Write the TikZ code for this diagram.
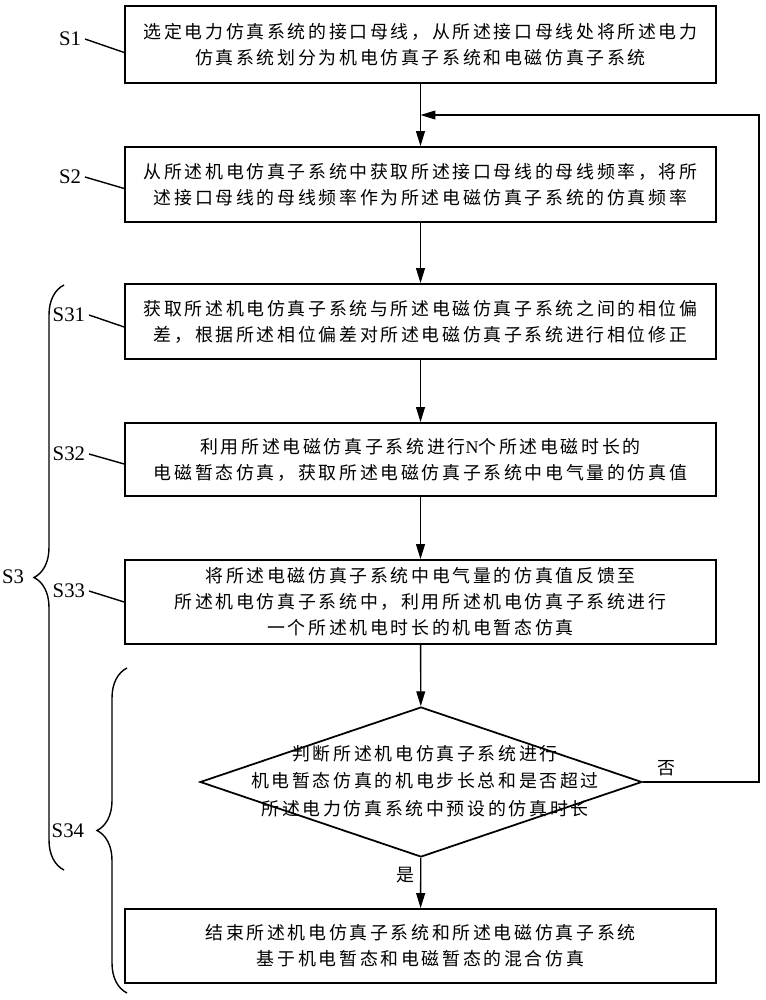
\documentclass[tikz,border=0pt]{standalone}
\usepackage{fontspec}
\setmainfont{Liberation Serif}
\newfontfamily\cjk[LetterSpace=15]{Noto Sans CJK SC}
\usetikzlibrary{arrows.meta}
\usetikzlibrary{positioning}
\usetikzlibrary{shapes.geometric}
\usetikzlibrary{decorations.pathreplacing}

\tikzset{
    stepbox/.style={draw, line width=1pt, minimum width=11.82cm, inner sep=0pt, align=center,
        font=\cjk\fontsize{10.2}{14.8}\selectfont},
    steplabel/.style={inner sep=0pt, outer sep=0.08cm, font=\fontsize{11.8}{14}\selectfont},
    flow/.style={line width=0.8pt, -{Triangle[length=8.5pt, width=5pt]}},
    leader/.style={line width=0.8pt},
    bracket/.style={line width=0.8pt, decorate, decoration={brace, amplitude=0.6cm}},
}

\begin{document}
\begin{tikzpicture}[x=0.02cm, y=-0.02cm]
    \useasboundingbox (0,0) rectangle (766,1000);

    \node[stepbox, minimum height=1.54cm] (s1) at (420.5,44.5)
        {选定电力仿真系统的接口母线，从所述接口母线处将所述电力\\仿真系统划分为机电仿真子系统和电磁仿真子系统};
    \node[stepbox, minimum height=1.5cm] (s2) at (420.5,184.5)
        {从所述机电仿真子系统中获取所述接口母线的母线频率，将所\\述接口母线的母线频率作为所述电磁仿真子系统的仿真频率};
    \node[stepbox, minimum height=1.5cm] (s31) at (420.5,321.5)
        {获取所述机电仿真子系统与所述电磁仿真子系统之间的相位偏\\差，根据所述相位偏差对所述电磁仿真子系统进行相位修正};
    \node[stepbox, minimum height=1.46cm] (s32) at (420.5,459.5)
        {利用所述电磁仿真子系统进行{\rmfamily N}个所述电磁时长的\\电磁暂态仿真，获取所述电磁仿真子系统中电气量的仿真值};
    \node[stepbox, minimum height=1.68cm] (s33) at (420.5,602)
        {将所述电磁仿真子系统中电气量的仿真值反馈至\\所述机电仿真子系统中，利用所述机电仿真子系统进行\\一个所述机电时长的机电暂态仿真};
    \node[draw, diamond, line width=1pt, minimum width=8.84cm, minimum height=3cm, inner sep=0pt] (d) at (421,782) {};
    \node[align=center, inner sep=0pt, font=\cjk\fontsize{10.2}{15.6}\selectfont] (dtext) at (425,781)
        {判断所述机电仿真子系统进行\\机电暂态仿真的机电步长总和是否超过\\所述电力仿真系统中预设的仿真时长};
    \node[stepbox, minimum height=1.48cm] (end) at (420.5,946)
        {结束所述机电仿真子系统和所述电磁仿真子系统\\基于机电暂态和电磁暂态的混合仿真};

    \node[steplabel, anchor=east] (l1) at (85,39) {S1};
    \node[steplabel, anchor=east] (l2) at (85,177) {S2};
    \node[steplabel, anchor=east] (l31) at (89,315) {S31};
    \node[steplabel, anchor=east] (l32) at (89,454) {S32};
    \node[steplabel, anchor=east] (l33) at (89,591) {S33};
    \node[steplabel, anchor=east] (l3) at (28,577) {S3};
    \node[steplabel, anchor=east] (l34) at (88,831) {S34};

    \draw[leader] (l1.east) -- ([yshift=-0.16cm]s1.west);
    \draw[leader] (l2.east) -- ([yshift=-0.08cm]s2.west);
    \draw[leader] (l31.east) -- ([yshift=-0.11cm]s31.west);
    \draw[leader] (l32.east) -- ([yshift=-0.09cm]s32.west);
    \draw[leader] (l33.east) -- (s33.west);

    \draw[bracket] (64,870) -- (64,285);
    \draw[bracket] (127,993) -- (127,668);

    \coordinate (fb) at (759,115);
    \coordinate (j) at (s1.south |- fb);

    \draw[flow] (s1) -- (s2);
    \draw[flow] (s2) -- (s31);
    \draw[flow] (s31) -- (s32);
    \draw[flow] (s32) -- (s33);
    \draw[flow] (s33) -- (d);
    \draw[flow] (d) -- node[left, pos=0.35, font=\cjk\fontsize{10.2}{12}\selectfont] (yes) {是} (end);
    \draw[flow] (d.east) -| node[above, pos=0.1, font=\cjk\fontsize{10.2}{12}\selectfont] (no) {否} (fb) -- (j);
\end{tikzpicture}
\end{document}
